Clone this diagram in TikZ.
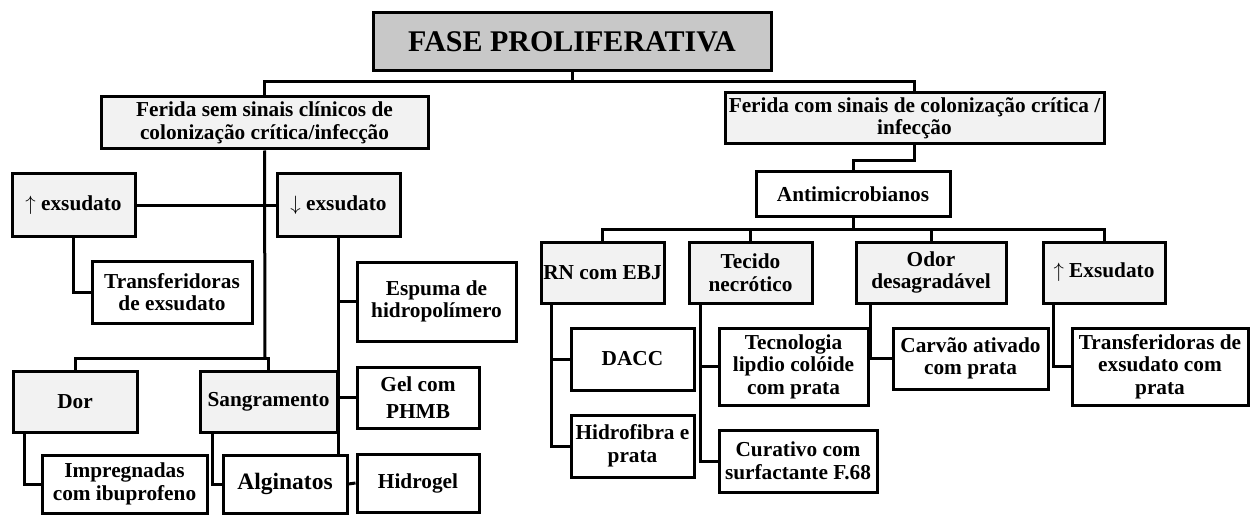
\documentclass[tikz,border=0pt]{standalone}
\usepackage{fontspec}
\setmainfont{Liberation Serif}
\definecolor{titlegray}{RGB}{200,200,200}
\definecolor{lightgray}{RGB}{242,242,242}
\tikzset{
  base/.style={draw=black, line width=3pt, inner sep=1pt, align=center,
    font=\bfseries\fontsize{21.3}{22.5}\selectfont},
  titlebox/.style={base, fill=titlegray, font=\bfseries\fontsize{30}{32}\selectfont},
  graybox/.style={base, fill=lightgray},
  whitebox/.style={base, fill=white},
  conn/.style={draw=black, line width=3pt},
}
\newcommand{\bx}[7]{\node[#6, minimum width={#4-#2}, minimum height={#5-#3}] (#1) at ({(#2+#4)/2},{(#3+#5)/2}) {#7};}
\newcommand{\upar}{$\uparrow$}
\newcommand{\dnar}{$\downarrow$}
\begin{document}
\begin{tikzpicture}[x=1pt,y=-1pt]
\useasboundingbox (0,0) rectangle (1251,516);
% boxes
\bx{title}{373}{13}{771}{71}{titlebox}{FASE PROLIFERATIVA}
\bx{fsem}{101}{97}{428}{149}{graybox}{Ferida sem sinais clínicos de\\colonização crítica/infecção}
\bx{fcom}{725}{93}{1104}{144}{graybox}{Ferida com sinais de colonização crítica /\\infecção}
\bx{anti}{756}{172}{950}{216}{whitebox}{Antimicrobianos}
\bx{rn}{541}{242}{664}{303}{graybox}{RN com EBJ}
\bx{tec}{689}{242}{812}{303}{graybox}{Tecido\\necrótico}
\bx{odor}{856}{242}{1006}{303}{graybox}{Odor\\desagradável}
\bx{ex2}{1043}{242}{1165}{303}{graybox}{\upar{} Exsudato}
\bx{dacc}{571}{328}{694}{390}{whitebox}{DACC}
\bx{hid}{571}{415}{694}{477}{whitebox}{Hidrofibra e\\prata}
\bx{tecn}{719}{328}{868}{405}{whitebox}{Tecnologia\\lipdio colóide\\com prata}
\bx{cur}{719}{430}{877}{492}{whitebox}{Curativo com\\surfactante F.68}
\bx{carv}{893}{328}{1048}{389}{whitebox}{Carvão ativado\\com prata}
\bx{trp}{1072}{328}{1248}{405}{whitebox}{Transferidoras de\\exsudato com\\prata}
\bx{up}{12}{174}{135}{236}{graybox}{\upar{} exsudato}
\bx{down}{277}{174}{400}{236}{graybox}{\dnar{} exsudato}
\bx{tr1}{92}{261}{252}{323}{whitebox}{Transferidoras\\de exsudato}
\bx{esp}{357}{262}{516}{341}{whitebox}{Espuma de\\hidropolímero}
\bx{gel}{357}{367}{479}{428}{whitebox}{Gel com\\[5pt]PHMB}
\bx{hidro}{357}{454}{479}{512}{whitebox}{Hidrogel}
\bx{dor}{13}{371}{137}{432}{graybox}{Dor}
\bx{sang}{200}{371}{337}{432}{graybox}{Sangramento}
\bx{imp}{42}{455}{207}{513}{whitebox}{Impregnadas\\com ibuprofeno}
\bx{alg}{223}{455}{347}{513}{whitebox}{\fontsize{23.5}{26}\selectfont Alginatos}
% junctions
\coordinate (j1) at (572,82);
\coordinate (j2) at (853,229);
\coordinate (j3) at (265,358);
% connectors
\draw[conn] (title.south) -- (j1);
\draw[conn] (fsem.north) |- (j1) -| (fcom.north);
\draw[conn] (fcom.south) -- ++(0,15) -| (anti.north);
\draw[conn] (anti.south) -- (j2);
\draw[conn] (rn.north) |- (j2) -| (ex2.north);
\draw[conn] (tec.north) -- (tec.north |- j2);
\draw[conn] (odor.north) -- (odor.north |- j2);
\draw[conn] ([xshift=12pt]rn.south west) |- (dacc.west);
\draw[conn] ([xshift=12pt]rn.south west) |- (hid.west);
\draw[conn] ([xshift=13pt]tec.south west) |- (tecn.west);
\draw[conn] ([xshift=13pt]tec.south west) |- (cur.west);
\draw[conn] ([xshift=16pt]odor.south west) |- (carv.west);
\draw[conn] ([xshift=12pt]ex2.south west) |- (trp.west);
% left subtree
\draw[conn] (fsem.south) -- (j3);
\draw[conn] (dor.north) |- (j3) -| (sang.north);
\draw[conn] (up.east) -- (down.west);
\draw[conn] (up.south) |- (tr1.west);
\draw[conn] (down.south) -- (down.south |- alg.north);
\draw[conn] (down.south |- esp.west) -- (esp.west);
\draw[conn] (down.south |- gel.west) -- (gel.west);
\draw[conn] (alg.east) -- (hidro.west);
\draw[conn] ([xshift=13pt]dor.south west) |- (imp.west);
\draw[conn] ([xshift=14pt]sang.south west) |- (alg.west);
\end{tikzpicture}
\end{document}
